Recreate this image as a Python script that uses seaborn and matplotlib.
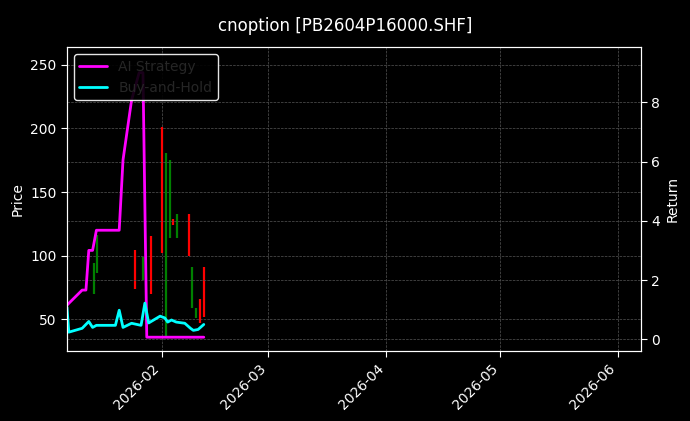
import pandas as pd
import matplotlib
matplotlib.use("Agg")
import matplotlib.pyplot as plt
import matplotlib.dates as mdates
import seaborn as sns

# candle data (date, open, close)
candle_dates = ["2026-01-14", "2026-01-15", "2026-01-25", "2026-01-27", "2026-01-29",
                "2026-02-01", "2026-02-02", "2026-02-03", "2026-02-04", "2026-02-05",
                "2026-02-08", "2026-02-09", "2026-02-10", "2026-02-11", "2026-02-12"]
candle_open = [70, 86, 104, 81, 115, 201, 36, 114, 129, 114, 133, 59, 51, 66, 91]
candle_close = [94, 116, 74, 99, 70, 102, 181, 175, 124, 133, 100, 91, 59, 47, 52]

ai_dates = ["2026-01-07 00:00", "2026-01-11 00:00", "2026-01-12 00:00", "2026-01-12 18:00", "2026-01-13 18:00",
            "2026-01-14 18:00", "2026-01-20 18:00", "2026-01-21 18:00", "2026-01-24 00:00",
            "2026-01-26 00:00", "2026-01-27 00:00", "2026-01-28 00:00", "2026-02-12 00:00"]
ai_ret = [1.15, 1.66, 1.66, 3.0, 3.0, 3.68, 3.68, 6.05, 8.07, 9.0, 9.0, 0.07, 0.07]

bh_dates = ["2026-01-07 00:00", "2026-01-07 12:00", "2026-01-11 00:00", "2026-01-12 18:00", "2026-01-13 18:00",
            "2026-01-14 18:00", "2026-01-19 18:00", "2026-01-20 18:00", "2026-01-21 18:00",
            "2026-01-24 00:00", "2026-01-26 12:00", "2026-01-27 12:00", "2026-01-28 12:00",
            "2026-01-31 12:00", "2026-02-01 18:00", "2026-02-02 12:00", "2026-02-03 12:00",
            "2026-02-04 18:00", "2026-02-07 00:00", "2026-02-08 12:00", "2026-02-09 06:00",
            "2026-02-10 12:00", "2026-02-12 00:00"]
bh_ret = [1.08, 0.24, 0.37, 0.6, 0.4, 0.47, 0.47, 0.98, 0.4, 0.54, 0.47, 1.22, 0.55,
          0.78, 0.72, 0.58, 0.65, 0.58, 0.54, 0.37, 0.3, 0.33, 0.5]

plt.style.use("dark_background")
sns.set_style("dark", {"axes.facecolor": "black", "figure.facecolor": "black"})

fig, ax = plt.subplots(figsize=(6.9, 4.21), dpi=100)
fig.subplots_adjust(left=0.097, right=0.929, top=0.888, bottom=0.166)
fig.patch.set_facecolor("black")
ax.set_facecolor("black")

cd = pd.to_datetime(candle_dates)
for d, o, c in zip(cd, candle_open, candle_close):
    col = "green" if c >= o else "red"
    ax.vlines(d, min(o, c), max(o, c), color=col, linewidth=1.6)

ax.set_ylim(24.8, 264)
ax.set_xlim(pd.Timestamp("2026-01-07"), pd.Timestamp("2026-06-07"))
ax.set_ylabel("Price", color="white")
ax.grid(True, color="#555555", linestyle="--", linewidth=0.5)
ax.xaxis.set_major_locator(mdates.MonthLocator())
ax.xaxis.set_major_formatter(mdates.DateFormatter("%Y-%m"))
plt.setp(ax.get_xticklabels(), rotation=45, ha="right")

ax2 = ax.twinx()
sns.lineplot(x=pd.to_datetime(ai_dates), y=ai_ret, ax=ax2, color="magenta", linewidth=2, label="AI Strategy")
sns.lineplot(x=pd.to_datetime(bh_dates), y=bh_ret, ax=ax2, color="cyan", linewidth=2, label="Buy-and-Hold")
ax2.set_ylim(-0.4, 9.86)
ax2.set_yticks([0, 2, 4, 6, 8])
ax2.set_ylabel("Return", color="white")
ax2.grid(True, color="#555555", linestyle="--", linewidth=0.5)
ax2.set_xlim(pd.Timestamp("2026-01-07"), pd.Timestamp("2026-06-07"))
leg = ax2.legend(loc="upper left", facecolor="black", edgecolor="white", fontsize=10)
leg.get_frame().set_alpha(0.9)

for a in (ax, ax2):
    a.tick_params(colors="white", which="both", length=4, left=(a is ax), right=(a is ax2), bottom=True)
    for s in a.spines.values():
        s.set_color("white")

fig.suptitle("cnoption [PB2604P16000.SHF]", color="white", fontsize=12, y=0.96)
fig.savefig("out.png", dpi=100, facecolor="black")
